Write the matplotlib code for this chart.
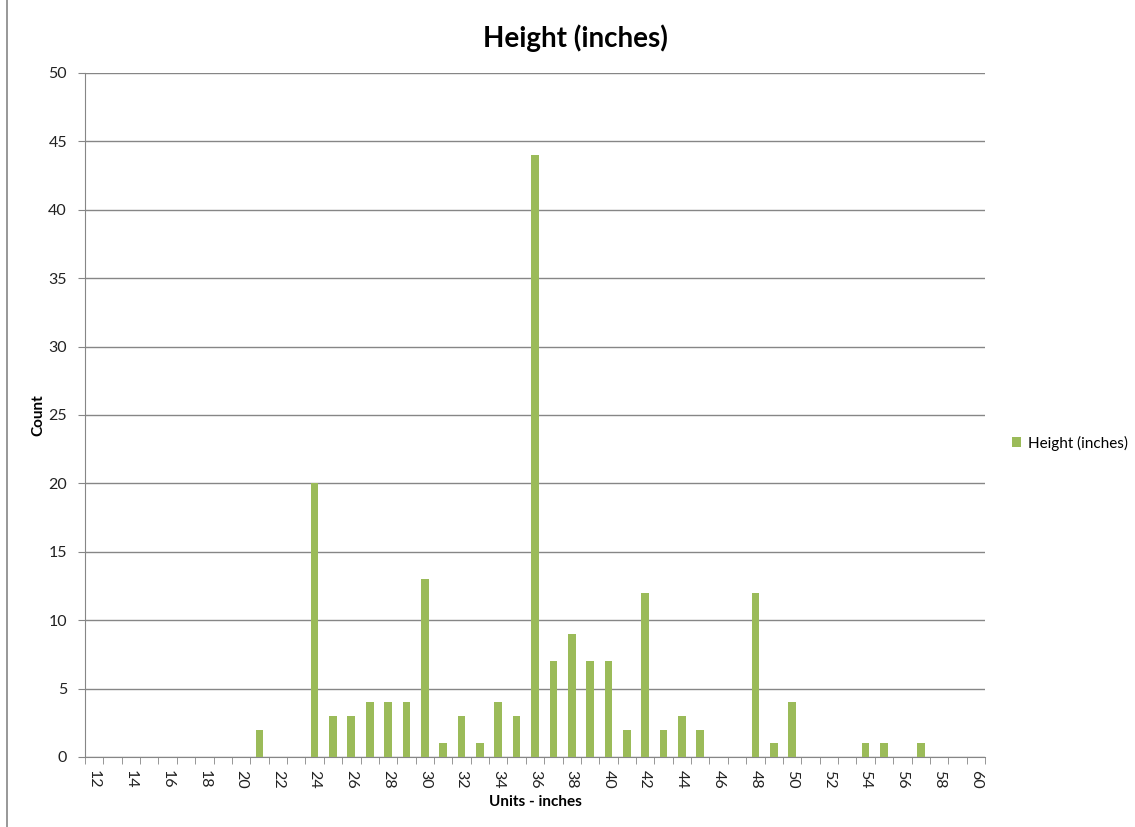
import numpy as np
import matplotlib.pyplot as plt
from matplotlib.lines import Line2D

# inches 12..60 and how many of each
heights = list(range(12, 61))
counts = [0, 0, 0, 0, 0, 0, 0, 0, 0,   # 12-20
          2, 0, 0, 20, 3, 3, 4, 4, 4,   # 21-29
          13, 1, 3, 1, 4, 3, 44, 7, 9,  # 30-38
          7, 7, 2, 12, 2, 3, 2, 0, 0,   # 39-47
          12, 1, 4, 0, 0, 0, 1, 1, 0,   # 48-56
          1, 0, 0, 0]                   # 57-60
yticks = list(range(0, 51, 5))

plt.rcParams['font.family'] = ['Lato', 'DejaVu Sans']
grey = '#868686'
green = '#9BBB59'

fig = plt.figure(figsize=(11.35, 8.27), dpi=100)
ax = fig.add_axes([85 / 1135, 1 - 757 / 827, 900 / 1135, 684 / 827])

x = np.arange(len(heights))
ax.bar(x, counts, width=0.42, color=green, label='Height (inches)', zorder=3)

ax.set_xlim(-0.5, len(heights) - 0.5)
ax.set_ylim(0, 50)
ax.set_yticks(yticks)
ax.set_yticklabels([str(v) for v in yticks], fontsize=11.5, color='#222222')
ax.yaxis.grid(True, color=grey, linewidth=1, zorder=0)

lab_pos = [i for i, h in enumerate(heights) if h % 2 == 0]
ax.set_xticks(lab_pos)
ax.set_xticklabels([str(heights[i]) for i in lab_pos], rotation=-90,
                   fontsize=11.5, color='#222222')
ax.set_xticks(np.arange(-0.5, len(heights)), minor=True)
ax.tick_params(axis='x', which='major', length=0, pad=9)
ax.tick_params(axis='x', which='minor', length=5, color=grey, direction='out')
ax.tick_params(axis='y', length=5, color=grey, pad=8)

for s in ['top', 'right']:
    ax.spines[s].set_visible(False)
for s in ['left', 'bottom']:
    ax.spines[s].set_color(grey)

ax.set_xlabel('Units - inches', fontsize=11, fontweight='bold', labelpad=5)
ax.set_ylabel('Count', fontsize=11, fontweight='bold', labelpad=2)

fig.text(575 / 1135, 1 - 38 / 827, 'Height (inches)', ha='center', va='center',
         fontsize=20, fontweight='bold')

ax.legend(loc='center left', bbox_to_anchor=(1.015, 0.459), frameon=False,
          fontsize=11, handlelength=0.6, handleheight=0.6, handletextpad=0.4)

fig.add_artist(Line2D([7 / 1135, 7 / 1135], [0, 1], color=grey, linewidth=1.2))

fig.savefig('out.png', dpi=100)
